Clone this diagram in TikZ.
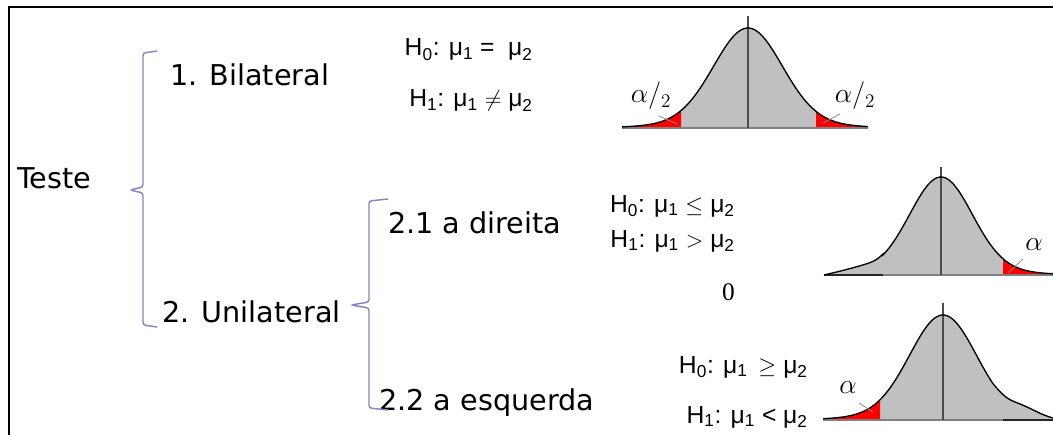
\documentclass[tikz,border=0pt]{standalone}
\usepackage{fontspec}
\setmainfont{DejaVu Sans}
\newfontfamily\hypfont{Liberation Sans}
\newfontfamily\zerofont{Liberation Serif}
\usetikzlibrary{positioning}
\definecolor{bracecol}{HTML}{8484C4}
\definecolor{areagray}{HTML}{C0C0C0}
\definecolor{tailred}{HTML}{FF0000}
\definecolor{leadgray}{HTML}{8C8C8C}
\definecolor{basegray}{HTML}{808080}

\begin{document}
\begin{tikzpicture}[x=0.75pt, y=-0.75pt,
    declare function={bell(\d,\s)=0.93*exp(-0.5*(\d/\s)^2)+0.07*exp(-0.5*(\d/(1.9*\s))^2);},
    item/.style={font=\fontsize{21.5}{24}\selectfont, anchor=base west, inner sep=0pt},
    hyp/.style={font=\hypfont\fontsize{18.5}{21}\selectfont, anchor=base east, inner sep=0pt},
    tailtag/.style={font=\fontsize{21}{23}\selectfont, inner sep=0pt},
    brace/.style={draw=bracecol, line width=1.1pt, rounded corners=2pt},
    frame/.style={black, line width=2.2pt},
    curve/.style={black, line width=1pt},
    midline/.style={black!70, line width=0.8pt},
    axisgray/.style={basegray, line width=0.9pt},
    axisdark/.style={black!85, line width=0.9pt},
    leader/.style={leadgray, line width=0.6pt}]

  \useasboundingbox (0,0) rectangle (1053,435);
  \draw[frame] (9,435) -- (9,7) -- (1053,7);

  % The tree of tests.
  \node[item] (teste) at (17,188) {Teste};
  \node[item] (bil) at (170,85) {1. Bilateral};
  \node[item] (uni) at (162,322) {2. Unilateral};
  \node[item] (dir) at (388,233) {2.1 a direita};
  \node[item] (esq) at (379,410) {2.2 a esquerda};

  \coordinate (b1top) at (157,51);
  \coordinate (b1tip) at (130,190);
  \coordinate (b1bot) at (157,327);
  \draw[brace] (b1top) -- (143,53) -- (143,187) -- (b1tip) -- (143,193) -- (143,325) -- (b1bot);
  \coordinate (b2top) at (388,199);
  \coordinate (b2tip) at (351,305);
  \coordinate (b2bot) at (388,410);
  \draw[brace] (b2top) -- (369,201) -- (369,302) -- (b2tip) -- (369,308) -- (369,408) -- (b2bot);

  % Hypotheses of each case.
  \node[hyp] (h0a) at (533,56) {H\textsubscript{0}: μ\textsubscript{1} = \ μ\textsubscript{2}};
  \node[hyp] (h1a) at (533,107) {H\textsubscript{1}: μ\textsubscript{1} $\neq$ μ\textsubscript{2}};
  \node[hyp] (h0b) at (735,212) {H\textsubscript{0}: μ\textsubscript{1} $\leq$ μ\textsubscript{2}};
  \node[hyp] (h1b) at (735,247) {H\textsubscript{1}: μ\textsubscript{1} $>$ μ\textsubscript{2}};
  \node[hyp, font=\zerofont\fontsize{19}{21}\selectfont] (zero) at (735,300) {0};
  \node[hyp] (h0c) at (808,373) {H\textsubscript{0}: μ\textsubscript{1} \,$\geq$ μ\textsubscript{2}};
  \node[hyp] (h1c) at (808,423) {H\textsubscript{1}: μ\textsubscript{1} < μ\textsubscript{2}};

  % Two tails, half of alpha on each side.
  \begin{scope}[shift={(748,128)}, yscale=-1]
    \def\areaA{(-126,0) -- plot[domain=-126:120, samples=90] (\x,{100*bell(\x,34)}) -- (120,0) -- cycle}
    \fill[areagray] \areaA;
    \begin{scope}
      \clip (-130,-1) rectangle (-67,110) (68,-1) rectangle (125,110);
      \fill[tailred] \areaA;
    \end{scope}
    \draw[axisgray] (-126,0) -- (120,0);
    \draw[midline] (0,0) -- (0,112);
    \draw[curve] plot[domain=-126:120, samples=90] (\x,{100*bell(\x,34)});
  \end{scope}
  \node[tailtag] (ta1) at (651,96) {$\alpha/_{2}$};
  \node[tailtag] (ta2) at (855,96) {$\alpha/_{2}$};
  \coordinate (la1) at (677,124);
  \coordinate (la2) at (823,123);
  \draw[leader] (659,116) -- (la1);
  \draw[leader] (840,114) -- (la2);

  % Right tail only.
  \begin{scope}[shift={(941,275)}, yscale=-1]
    \def\areaB{(-117,0) .. controls (-100,4) and (-84,8) .. (-72,12) .. controls (-66,14) and (-62,17) .. (-58,21) -- plot[domain=-58:112, samples=80] (\x,{98*bell(\x,31)}) -- (112,0) -- cycle}
    \fill[areagray] \areaB;
    \begin{scope}
      \clip (62,-1) rectangle (115,110);
      \fill[tailred] \areaB;
    \end{scope}
    \draw[axisgray] (-58,0) -- (112,0);
    \draw[axisdark] (-117,0) -- (-58,0);
    \draw[midline] (0,0) -- (0,108);
    \draw[curve] (-117,0) .. controls (-100,4) and (-84,8) .. (-72,12) .. controls (-66,14) and (-62,17) .. (-58,21) -- plot[domain=-58:112, samples=80] (\x,{98*bell(\x,31)});
  \end{scope}
  \node[tailtag] (tb) at (1034,245) {$\alpha$};
  \coordinate (lb) at (1008,273);
  \draw[leader] (1023,259) -- (lb);

  % Left tail only.
  \begin{scope}[shift={(943,420)}, yscale=-1]
    \def\areaC{(-120,0) -- plot[domain=-120:50, samples=80] (\x,{105*bell(\x,33)}) .. controls (58,27) and (62,22) .. (72,18) .. controls (86,13) and (98,5) .. (110,2) -- (110,0) -- cycle}
    \fill[areagray] \areaC;
    \begin{scope}
      \clip (-115,-1) rectangle (-63,110);
      \fill[tailred] \areaC;
    \end{scope}
    \draw[axisgray] (-120,0) -- (60,0);
    \draw[axisdark] (60,0) -- (110,0);
    \draw[midline] (0,0) -- (0,117);
    \draw[curve] plot[domain=-120:50, samples=80] (\x,{105*bell(\x,33)}) .. controls (58,27) and (62,22) .. (72,18) .. controls (86,13) and (98,5) .. (110,2);
  \end{scope}
  \node[tailtag] (tc) at (848,388) {$\alpha$};
  \coordinate (lc) at (873,412);
  \draw[leader] (859,403) -- (lc);
\end{tikzpicture}
\end{document}
